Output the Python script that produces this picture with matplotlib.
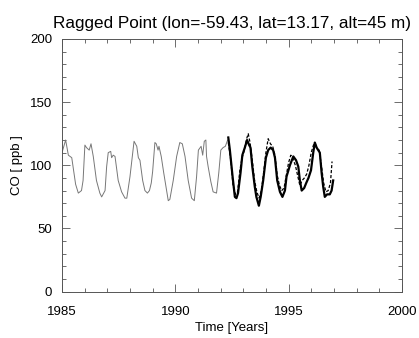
import numpy as np
import matplotlib
matplotlib.use("Agg")
import matplotlib.pyplot as plt
from matplotlib.ticker import MultipleLocator

plt.rcParams['font.family'] = ['Liberation Sans', 'DejaVu Sans']

# modello (linea sottile grigia)
t_mod = [1985.00, 1985.16, 1985.28, 1985.43, 1985.60, 1985.72, 1985.86, 1985.93, 1986.01,
         1986.08, 1986.20, 1986.28, 1986.38, 1986.52, 1986.67, 1986.75, 1986.90, 1986.97,
         1987.04, 1987.15, 1987.19, 1987.26, 1987.34, 1987.48, 1987.63, 1987.78, 1987.86,
         1988.00, 1988.18, 1988.30, 1988.37, 1988.44, 1988.56, 1988.66, 1988.77, 1988.86,
         1988.94, 1989.00, 1989.10, 1989.16, 1989.24, 1989.28, 1989.38, 1989.49, 1989.69,
         1989.76, 1989.91, 1990.06, 1990.20, 1990.31, 1990.43, 1990.57, 1990.72, 1990.84,
         1990.94, 1991.02, 1991.14, 1991.21, 1991.28, 1991.35, 1991.38, 1991.45, 1991.57,
         1991.67, 1991.82, 1991.92, 1992.01, 1992.11, 1992.21, 1992.31]
co_mod = [110, 120, 108, 106, 85, 78, 80, 88, 116,
          114, 112, 117, 107, 88, 78, 75, 80, 99,
          110, 111, 106, 108, 107, 88, 79, 74, 74,
          91, 119, 115, 106, 104, 88, 80, 78, 80,
          86, 95, 118, 117, 112, 115, 107, 94, 72,
          73, 88, 107, 118, 117, 107, 88, 74, 72,
          91, 112, 115, 108, 119, 120, 107, 99, 87,
          79, 78, 94, 112, 114, 115, 120]

# osservazioni (linea spessa nera)
t_obs = [1992.34, 1992.41, 1992.53, 1992.63, 1992.70, 1992.77, 1992.88, 1992.96, 1993.07,
         1993.17, 1993.26, 1993.32, 1993.40, 1993.51, 1993.58, 1993.69, 1993.77, 1993.88,
         1994.00, 1994.10, 1994.21, 1994.32, 1994.40, 1994.50, 1994.62, 1994.73, 1994.84,
         1994.91, 1995.06, 1995.21, 1995.33, 1995.43, 1995.50, 1995.58, 1995.69, 1995.78,
         1995.88, 1995.99, 1996.09, 1996.16, 1996.24, 1996.31, 1996.38, 1996.46, 1996.53,
         1996.60, 1996.70, 1996.82, 1996.90, 1996.97]
co_obs = [122, 112, 91, 75, 74, 78, 94, 108, 114,
          120, 116, 114, 99, 83, 75, 68, 75, 88,
          106, 112, 114, 112, 106, 88, 79, 75, 80,
          91, 100, 107, 104, 99, 88, 80, 82, 86,
          90, 96, 110, 118, 114, 112, 110, 94, 83,
          75, 77, 77, 80, 88]

# serie tratteggiata
t_dash = [1992.34, 1992.45, 1992.55, 1992.65, 1992.75, 1992.85, 1992.95, 1993.05, 1993.15,
          1993.22, 1993.30, 1993.40, 1993.50, 1993.60, 1993.70, 1993.80, 1993.90, 1994.00,
          1994.10, 1994.20, 1994.30, 1994.40, 1994.50, 1994.60, 1994.70, 1994.80, 1994.90,
          1995.00, 1995.10, 1995.20, 1995.30, 1995.40, 1995.50, 1995.60, 1995.70, 1995.80,
          1995.90, 1996.00, 1996.10, 1996.18, 1996.25, 1996.35, 1996.45, 1996.55, 1996.65,
          1996.75, 1996.85, 1996.92]
co_dash = [118, 104, 84, 77, 79, 96, 106, 112, 121,
           125, 118, 104, 88, 79, 74, 80, 94, 110,
           121, 117, 115, 108, 92, 84, 80, 82, 92,
           102, 108, 105, 100, 92, 84, 88, 90, 93,
           100, 110, 116, 117, 113, 112, 100, 86, 79,
           80, 86, 103]

fig = plt.figure(figsize=(4.19, 3.38), dpi=100)
ax = fig.add_axes([0.148, 0.137, 0.811, 0.748])

ax.plot(t_mod, co_mod, color='#777777', lw=0.7)
ax.plot(t_dash, co_dash, color='black', lw=0.9, ls=(0, (2.5, 1.5)))
ax.plot(t_obs, co_obs, color='black', lw=1.6)

ax.set_xlim(1985, 2000)
ax.set_ylim(0, 200)
ax.xaxis.set_major_locator(MultipleLocator(5))
ax.xaxis.set_minor_locator(MultipleLocator(1))
ax.yaxis.set_major_locator(MultipleLocator(50))
ax.yaxis.set_minor_locator(MultipleLocator(10))
ax.tick_params(which='both', direction='in', top=True, right=True,
               labelsize=9.5, color='#555555', width=0.6)
ax.tick_params(which='major', length=6)
ax.tick_params(axis='x', which='major', pad=10)
ax.tick_params(axis='y', which='major', pad=7)
ax.tick_params(which='minor', length=3)
for s in ax.spines.values():
    s.set_color('#555555')
    s.set_linewidth(0.7)

ax.set_xlabel('Time [Years]', fontsize=9.5, labelpad=3)
ax.set_ylabel('CO [ ppb ]', fontsize=9.5, labelpad=5)
ax.set_title('Ragged Point (lon=-59.43, lat=13.17, alt=45 m)', fontsize=12.3, pad=8)

plt.savefig('out.png', dpi=100)
